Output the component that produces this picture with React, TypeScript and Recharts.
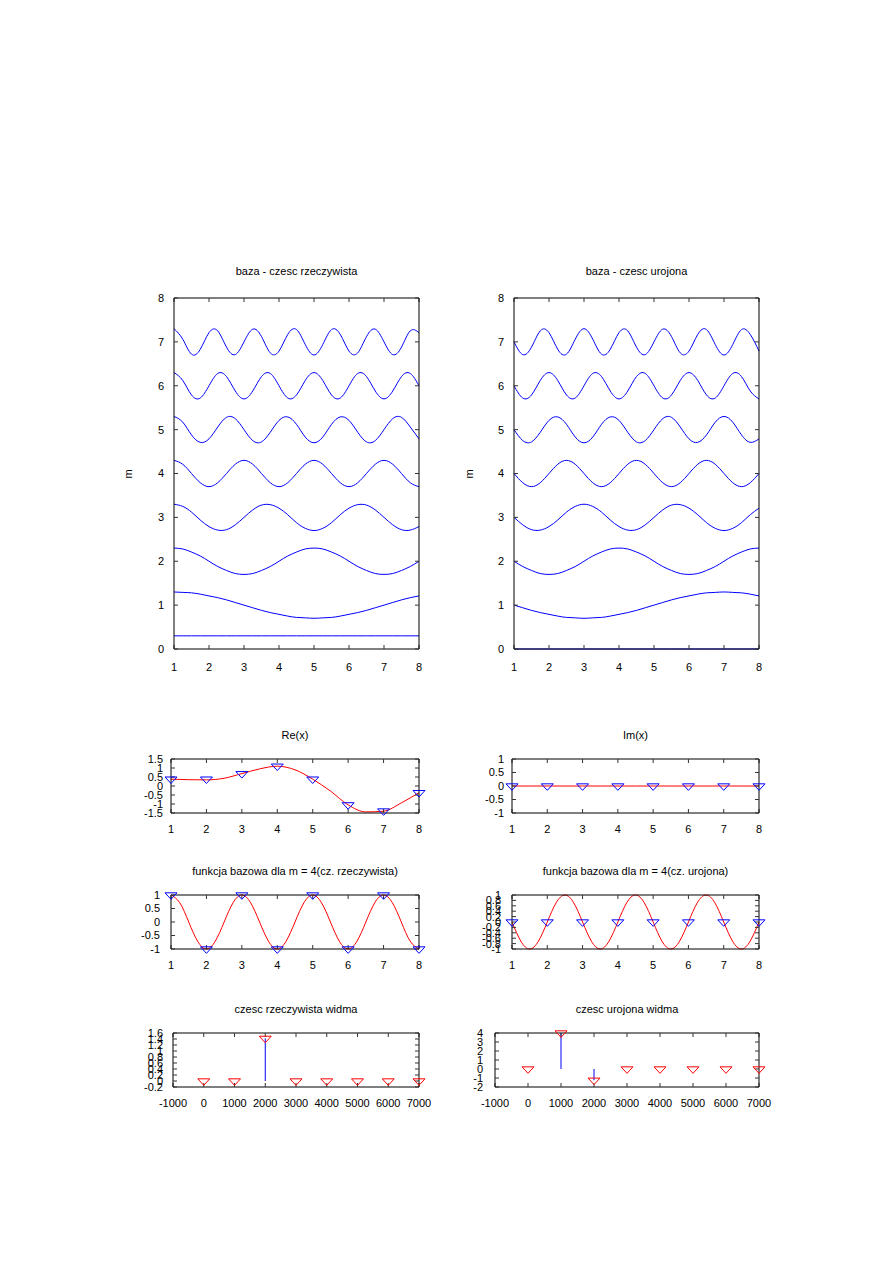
import React from 'react';
import { ComposedChart, Line, XAxis, YAxis } from 'recharts';

const FONT = '"Liberation Sans", Arial, Helvetica, sans-serif';
const BLUE = '#0000ff';
const RED = '#ff0000';

// x positions of the basis curves (step 0.25)
const gridX = [1, 1.25, 1.5, 1.75, 2, 2.25, 2.5, 2.75, 3, 3.25, 3.5, 3.75, 4, 4.25, 4.5, 4.75, 5, 5.25, 5.5, 5.75, 6, 6.25, 6.5, 6.75, 7, 7.25, 7.5, 7.75, 8];

// baza - czesc rzeczywista, one row per m
const re0 = [0.3, 0.3, 0.3, 0.3, 0.3, 0.3, 0.3, 0.3, 0.3, 0.3, 0.3, 0.3, 0.3, 0.3, 0.3, 0.3, 0.3, 0.3, 0.3, 0.3, 0.3, 0.3, 0.3, 0.3, 0.3, 0.3, 0.3, 0.3, 0.3];
const re1 = [1.30, 1.29, 1.28, 1.25, 1.21, 1.17, 1.12, 1.06, 1.00, 0.94, 0.88, 0.83, 0.79, 0.75, 0.72, 0.71, 0.70, 0.71, 0.72, 0.75, 0.79, 0.83, 0.88, 0.94, 1.00, 1.06, 1.12, 1.17, 1.21];
const re2 = [2.30, 2.28, 2.21, 2.12, 2.00, 1.88, 1.79, 1.72, 1.70, 1.72, 1.79, 1.88, 2.00, 2.12, 2.21, 2.28, 2.30, 2.28, 2.21, 2.12, 2.00, 1.88, 1.79, 1.72, 1.70, 1.72, 1.79, 1.88, 2.00];
const re3 = [3.30, 3.25, 3.12, 2.94, 2.79, 2.71, 2.72, 2.83, 3.00, 3.17, 3.28, 3.29, 3.21, 3.06, 2.88, 2.75, 2.70, 2.75, 2.88, 3.06, 3.21, 3.29, 3.28, 3.17, 3.00, 2.83, 2.72, 2.71, 2.79];
const re4 = [4.30, 4.21, 4.00, 3.79, 3.70, 3.79, 4.00, 4.21, 4.30, 4.21, 4.00, 3.79, 3.70, 3.79, 4.00, 4.21, 4.30, 4.21, 4.00, 3.79, 3.70, 3.79, 4.00, 4.21, 4.30, 4.21, 4.00, 3.79, 3.70];
const re5 = [5.30, 5.17, 4.88, 4.71, 4.79, 5.06, 5.28, 5.25, 5.00, 4.75, 4.72, 4.94, 5.21, 5.29, 5.12, 4.83, 4.70, 4.83, 5.12, 5.29, 5.21, 4.94, 4.72, 4.75, 5.00, 5.25, 5.28, 5.06, 4.79];
const re6 = [6.30, 6.12, 5.79, 5.72, 6.00, 6.28, 6.21, 5.88, 5.70, 5.88, 6.21, 6.28, 6.00, 5.72, 5.79, 6.12, 6.30, 6.12, 5.79, 5.72, 6.00, 6.28, 6.21, 5.88, 5.70, 5.88, 6.21, 6.28, 6.00];
const re7 = [7.30, 7.06, 6.72, 6.83, 7.21, 7.25, 6.88, 6.71, 7.00, 7.29, 7.12, 6.75, 6.79, 7.17, 7.28, 6.94, 6.70, 6.94, 7.28, 7.17, 6.79, 6.75, 7.12, 7.29, 7.00, 6.71, 6.88, 7.25, 7.21];

// baza - czesc urojona
const im0 = [0, 0, 0, 0, 0, 0, 0, 0, 0, 0, 0, 0, 0, 0, 0, 0, 0, 0, 0, 0, 0, 0, 0, 0, 0, 0, 0, 0, 0];
const im1 = [1.00, 0.94, 0.88, 0.83, 0.79, 0.75, 0.72, 0.71, 0.70, 0.71, 0.72, 0.75, 0.79, 0.83, 0.88, 0.94, 1.00, 1.06, 1.12, 1.17, 1.21, 1.25, 1.28, 1.29, 1.30, 1.29, 1.28, 1.25, 1.21];
const im2 = [2.00, 1.88, 1.79, 1.72, 1.70, 1.72, 1.79, 1.88, 2.00, 2.12, 2.21, 2.28, 2.30, 2.28, 2.21, 2.12, 2.00, 1.88, 1.79, 1.72, 1.70, 1.72, 1.79, 1.88, 2.00, 2.12, 2.21, 2.28, 2.30];
const im3 = [3.00, 2.83, 2.72, 2.71, 2.79, 2.94, 3.12, 3.25, 3.30, 3.25, 3.12, 2.94, 2.79, 2.71, 2.72, 2.83, 3.00, 3.17, 3.28, 3.29, 3.21, 3.06, 2.88, 2.75, 2.70, 2.75, 2.88, 3.06, 3.21];
const im4 = [4.00, 3.79, 3.70, 3.79, 4.00, 4.21, 4.30, 4.21, 4.00, 3.79, 3.70, 3.79, 4.00, 4.21, 4.30, 4.21, 4.00, 3.79, 3.70, 3.79, 4.00, 4.21, 4.30, 4.21, 4.00, 3.79, 3.70, 3.79, 4.00];
const im5 = [5.00, 4.75, 4.72, 4.94, 5.21, 5.29, 5.12, 4.83, 4.70, 4.83, 5.12, 5.29, 5.21, 4.94, 4.72, 4.75, 5.00, 5.25, 5.28, 5.06, 4.79, 4.71, 4.88, 5.17, 5.30, 5.17, 4.88, 4.71, 4.79];
const im6 = [6.00, 5.72, 5.79, 6.12, 6.30, 6.12, 5.79, 5.72, 6.00, 6.28, 6.21, 5.88, 5.70, 5.88, 6.21, 6.28, 6.00, 5.72, 5.79, 6.12, 6.30, 6.12, 5.79, 5.72, 6.00, 6.28, 6.21, 5.88, 5.70];
const im7 = [7.00, 6.71, 6.88, 7.25, 7.21, 6.83, 6.72, 7.06, 7.30, 7.06, 6.72, 6.83, 7.21, 7.25, 6.88, 6.71, 7.00, 7.29, 7.12, 6.75, 6.79, 7.17, 7.28, 6.94, 6.70, 6.94, 7.28, 7.17, 6.79];

// signal samples
const sampleX = [1, 2, 3, 4, 5, 6, 7, 8];
const reSamples = [0.38, 0.38, 0.68, 1.1, 0.38, -1.05, -1.39, -0.37];
const imSamples = [0, 0, 0, 0, 0, 0, 0, 0];
const curveX = [1, 1.5, 2, 2.5, 3, 3.5, 4, 4.5, 5, 5.5, 6, 6.5, 7, 7.5, 8];
const reCurve = [0.38, 0.35, 0.34, 0.43, 0.69, 0.95, 1.1, 0.9, 0.38, -0.28, -1.05, -1.44, -1.4, -0.94, -0.37];
const imCurve = [0, 0, 0, 0, 0, 0, 0, 0, 0, 0, 0, 0, 0, 0, 0];

// funkcja bazowa dla m = 4
const m4ReSamples = [1, -1, 1, -1, 1, -1, 1, -1];
const m4ImSamples = [0, 0, 0, 0, 0, 0, 0, 0];
const m4ReCurve = [1, 0.71, 0, -0.71, -1, -0.71, 0, 0.71, 1, 0.71, 0, -0.71, -1, -0.71, 0, 0.71, 1, 0.71, 0, -0.71, -1, -0.71, 0, 0.71, 1, 0.71, 0, -0.71, -1];
const m4ImCurve = [0, -0.71, -1, -0.71, 0, 0.71, 1, 0.71, 0, -0.71, -1, -0.71, 0, 0.71, 1, 0.71, 0, -0.71, -1, -0.71, 0, 0.71, 1, 0.71, 0, -0.71, -1, -0.71, 0];

// widmo
const freqs = [0, 1000, 2000, 3000, 4000, 5000, 6000, 7000];
const specRe = [0, 0, 1.42, 0, 0, 0, 0, 0];
const specIm = [0, 4, -1.25, 0, 0, 0, 0, 0];

// ticks
const ticks1to8 = [1, 2, 3, 4, 5, 6, 7, 8];
const ticksBaza = [0, 1, 2, 3, 4, 5, 6, 7, 8];
const ticksRe = [-1.5, -1, -0.5, 0, 0.5, 1, 1.5];
const ticksHalf = [-1, -0.5, 0, 0.5, 1];
const ticksFifth = [-1, -0.8, -0.6, -0.4, -0.2, 0, 0.2, 0.4, 0.6, 0.8, 1];
const ticksFreq = [-1000, 0, 1000, 2000, 3000, 4000, 5000, 6000, 7000];
const ticksSpecRe = [-0.2, 0, 0.2, 0.4, 0.6, 0.8, 1, 1.2, 1.4, 1.6];
const ticksSpecIm = [-2, -1, 0, 1, 2, 3, 4];

type Pt = { x: number; y: number | null };
const pts = (xs: number[], ys: number[]): Pt[] => xs.map((x, i) => ({ x, y: ys[i] }));
const stems = (xs: number[], ys: number[]): Pt[] =>
  xs.flatMap((x, i) => [{ x, y: 0 }, { x, y: ys[i] }, { x, y: null }]);

const Triangle = ({ cx, cy, color }: { cx?: number; cy?: number; color: string }) => {
  if (cx == null || cy == null || isNaN(cx) || isNaN(cy)) return <g />;
  const hw = 6;
  const h = 6.5;
  const top = cy - h / 3;
  return (
    <path
      d={`M${cx - hw},${top}L${cx + hw},${top}L${cx},${top + h}Z`}
      fill="none"
      stroke={color}
      strokeWidth={1}
    />
  );
};

type Spec = { data: Pt[]; color: string; curve?: 'linear' | 'natural' | 'monotone'; marker?: boolean };

interface PanelProps {
  left: number; right: number; top: number; bottom: number;
  title: string; titleY: number;
  xDomain: [number, number]; xTicks: number[];
  yDomain: [number, number]; yTicks: number[];
  yGap: number; xOff: number;
  yLabelX?: number;
  series: Spec[];
}

// chart frame: left axis width, top/right mirror axis size, spare margins
const YW = 60, MIR = 1, MT = 12, MR = 12, XH = 30, TICK = 4;
const tickStyle = { fontSize: 11, fill: '#000', fontFamily: FONT };
const axisStroke = { stroke: '#000', strokeWidth: 1 };
const tickStroke = { stroke: '#333', strokeWidth: 1 };
const noLabel = () => <g />;

function Panel(p: PanelProps) {
  const w = p.right - p.left;
  const h = p.bottom - p.top;
  return (
    <>
      <div style={{ position: 'absolute', left: (p.left + p.right) / 2, top: p.titleY, transform: 'translate(-50%, -50%)', fontFamily: FONT, fontSize: 11, whiteSpace: 'nowrap', lineHeight: 1 }}>
        {p.title}
      </div>
      {p.yLabelX != null && (
        <div style={{ position: 'absolute', left: p.yLabelX, top: (p.top + p.bottom) / 2, transform: 'translate(-50%, -50%) rotate(-90deg)', fontFamily: FONT, fontSize: 11, lineHeight: 1 }}>
          m
        </div>
      )}
      <div style={{ position: 'absolute', left: p.left - YW, top: p.top - MT - MIR }}>
        <ComposedChart width={YW + w + MIR + MR} height={MT + MIR + h + XH} margin={{ top: MT, right: MR, left: 0, bottom: 0 }}>
          <XAxis xAxisId="b" type="number" dataKey="x" domain={p.xDomain} ticks={p.xTicks} interval={0}
            height={XH} tickSize={-TICK} tickMargin={p.xOff} axisLine={axisStroke} tickLine={tickStroke} tick={tickStyle} />
          <XAxis xAxisId="t" orientation="top" type="number" dataKey="x" domain={p.xDomain} ticks={p.xTicks} interval={0}
            height={MIR} tickSize={-TICK} axisLine={axisStroke} tickLine={tickStroke} tick={noLabel} />
          <YAxis yAxisId="l" type="number" dataKey="y" domain={p.yDomain} ticks={p.yTicks} interval={0}
            width={YW} tickSize={-TICK} tickMargin={TICK + p.yGap} axisLine={axisStroke} tickLine={tickStroke} tick={tickStyle} />
          <YAxis yAxisId="r" orientation="right" type="number" dataKey="y" domain={p.yDomain} ticks={p.yTicks} interval={0}
            width={MIR} tickSize={-TICK} axisLine={axisStroke} tickLine={tickStroke} tick={noLabel} />
          <Line xAxisId="t" yAxisId="r" data={p.series[0].data} dataKey="y" stroke="none" dot={false} activeDot={false} isAnimationActive={false} />
          {p.series.map((s, i) =>
            s.marker ? (
              <Line key={i} xAxisId="b" yAxisId="l" data={s.data} dataKey="y" stroke="none" activeDot={false} isAnimationActive={false}
                dot={(d: any) => <Triangle key={`tri-${i}-${d.index}`} cx={d.cx} cy={d.cy} color={s.color} />} />
            ) : (
              <Line key={i} xAxisId="b" yAxisId="l" data={s.data} dataKey="y" type={s.curve ?? 'linear'} stroke={s.color} strokeWidth={1}
                dot={false} activeDot={false} isAnimationActive={false} connectNulls={false} />
            )
          )}
        </ComposedChart>
      </div>
    </>
  );
}

const bazaRe = [re0, re1, re2, re3, re4, re5, re6, re7];
const bazaIm = [im0, im1, im2, im3, im4, im5, im6, im7];

export default function App() {
  return (
    <div style={{ position: 'absolute', left: 0, top: 0, width: 893, height: 1263, background: '#fff', overflow: 'hidden' }}>
      <Panel left={174} right={419} top={298} bottom={649} title="baza - czesc rzeczywista" titleY={271}
        xDomain={[1, 8]} xTicks={ticks1to8} yDomain={[0, 8]} yTicks={ticksBaza} yGap={10} xOff={18} yLabelX={128}
        series={bazaRe.map(r => ({ data: pts(gridX, r), color: BLUE, curve: 'natural' as const }))} />
      <Panel left={514} right={759} top={298} bottom={649} title="baza - czesc urojona" titleY={271}
        xDomain={[1, 8]} xTicks={ticks1to8} yDomain={[0, 8]} yTicks={ticksBaza} yGap={10} xOff={18} yLabelX={469}
        series={bazaIm.map(r => ({ data: pts(gridX, r), color: BLUE, curve: 'natural' as const }))} />

      <Panel left={171} right={419} top={759} bottom={813} title="Re(x)" titleY={735}
        xDomain={[1, 8]} xTicks={ticks1to8} yDomain={[-1.5, 1.5]} yTicks={ticksRe} yGap={8} xOff={16}
        series={[
          { data: pts(sampleX, reSamples), color: BLUE, marker: true },
          { data: pts(curveX, reCurve), color: RED, curve: 'monotone' },
        ]} />
      <Panel left={512} right={759} top={759} bottom={813} title="Im(x)" titleY={735}
        xDomain={[1, 8]} xTicks={ticks1to8} yDomain={[-1, 1]} yTicks={ticksHalf} yGap={8} xOff={16}
        series={[
          { data: pts(sampleX, imSamples), color: BLUE, marker: true },
          { data: pts(curveX, imCurve), color: RED },
        ]} />

      <Panel left={171} right={419} top={895} bottom={949} title="funkcja bazowa dla m = 4(cz. rzeczywista)" titleY={871}
        xDomain={[1, 8]} xTicks={ticks1to8} yDomain={[-1, 1]} yTicks={ticksHalf} yGap={11} xOff={16}
        series={[
          { data: pts(sampleX, m4ReSamples), color: BLUE, marker: true },
          { data: pts(gridX, m4ReCurve), color: RED, curve: 'natural' },
        ]} />
      <Panel left={512} right={759} top={895} bottom={949} title="funkcja bazowa dla m = 4(cz. urojona)" titleY={871}
        xDomain={[1, 8]} xTicks={ticks1to8} yDomain={[-1, 1]} yTicks={ticksFifth} yGap={11} xOff={16}
        series={[
          { data: pts(sampleX, m4ImSamples), color: BLUE, marker: true },
          { data: pts(gridX, m4ImCurve), color: RED, curve: 'natural' },
        ]} />

      <Panel left={173} right={419} top={1033} bottom={1087} title="czesc rzeczywista widma" titleY={1009}
        xDomain={[-1000, 7000]} xTicks={ticksFreq} yDomain={[-0.2, 1.6]} yTicks={ticksSpecRe} yGap={10} xOff={16}
        series={[
          { data: stems(freqs, specRe), color: BLUE },
          { data: pts(freqs, specRe), color: RED, marker: true },
        ]} />
      <Panel left={495} right={759} top={1033} bottom={1087} title="czesc urojona widma" titleY={1009}
        xDomain={[-1000, 7000]} xTicks={ticksFreq} yDomain={[-2, 4]} yTicks={ticksSpecIm} yGap={12} xOff={16}
        series={[
          { data: stems(freqs, specIm), color: BLUE },
          { data: pts(freqs, specIm), color: RED, marker: true },
        ]} />
    </div>
  );
}
